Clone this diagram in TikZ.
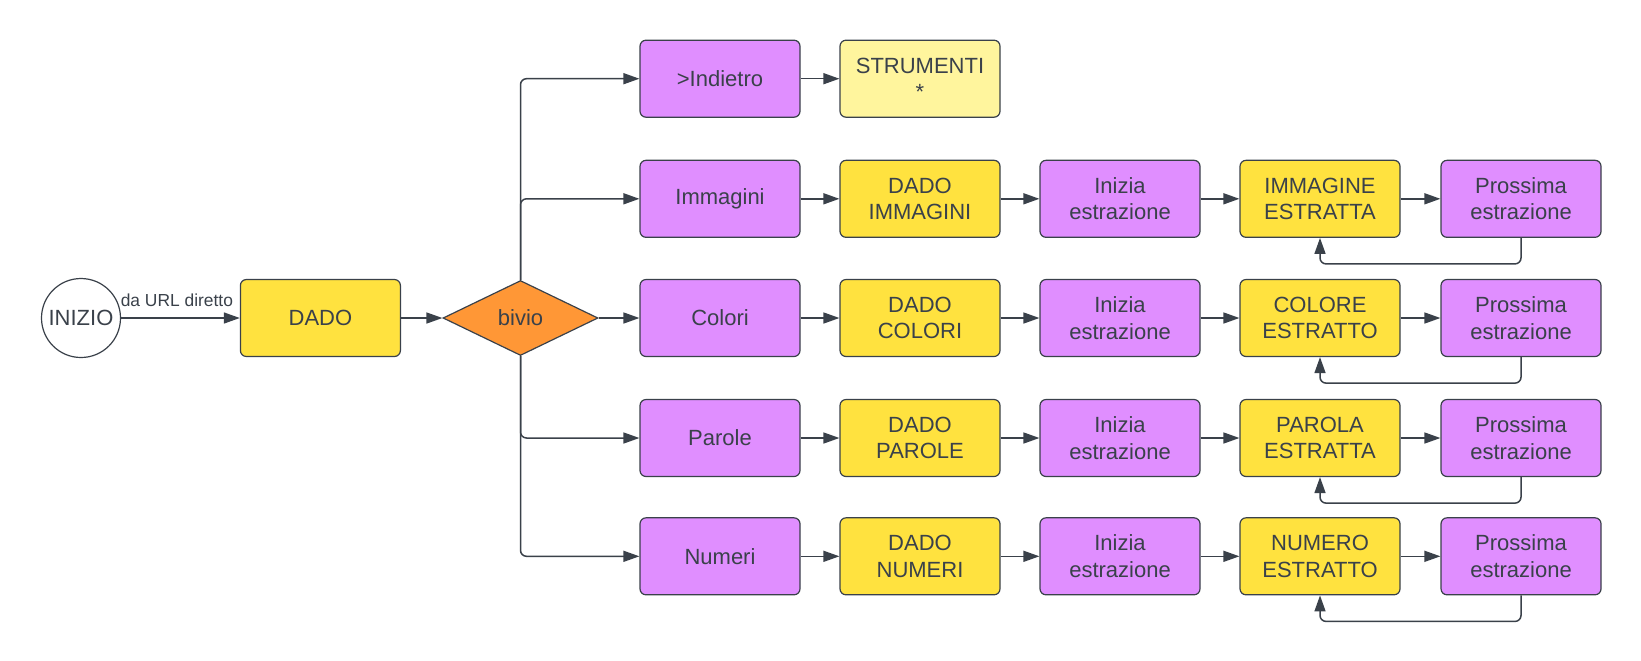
\documentclass[tikz,border=0pt]{standalone}
\usepackage{fontspec}
\setmainfont{Liberation Sans}
\usepackage{xcolor}
\usepackage{tikz}
\usetikzlibrary{arrows.meta,positioning,shapes.geometric}

\definecolor{lilla}{HTML}{E08EFF}
\definecolor{giallo}{HTML}{FFE23F}
\definecolor{giallochiaro}{HTML}{FFF59D}
\definecolor{arancio}{HTML}{FF9736}
\definecolor{inchiostro}{HTML}{3A414A}

\begin{document}
\begin{tikzpicture}[
    x=0.5pt, y=-0.5pt,
    box/.style={rectangle,rounded corners=3pt,draw=inchiostro,line width=0.6pt,
      minimum width=80pt,minimum height=38.5pt,inner sep=0pt,align=center,
      text=inchiostro,font=\fontsize{11}{13.3}\selectfont},
    viola/.style={box,fill=lilla},
    oro/.style={box,fill=giallo},
    pallido/.style={box,fill=giallochiaro},
    conn/.style={-{Triangle[length=8pt,width=5.5pt]},inchiostro,line width=0.75pt,rounded corners=3pt},
    lbl/.style={font=\fontsize{8.7}{10}\selectfont,text=inchiostro,inner sep=1pt},
  ]
  \useasboundingbox (0,0) rectangle (1641,660);

  % start, first die, fork
  \node[circle,draw=inchiostro,line width=0.6pt,minimum size=39.5pt,inner sep=0pt,
        text=inchiostro,font=\fontsize{11}{13.3}\selectfont] (inizio) at (81,318) {INIZIO};
  \node[oro] (dado) at (320.4,318) {DADO};
  \node[diamond,draw=inchiostro,line width=0.6pt,fill=arancio,aspect=2,inner sep=0pt,
        minimum width=77.5pt,minimum height=37.5pt,text=inchiostro,
        font=\fontsize{11}{13.3}\selectfont] (bivio) at (520.5,318) {bivio};

  \draw[conn] (inizio) -- node[lbl,pos=0.47,above=4.5pt] {da URL diretto} (dado);
  \draw[conn] (dado) -- (bivio);

  % back to tools
  \node[viola] (indietro) at (720,78.7) {>Indietro};
  \node[pallido] (strumenti) at (920,78.7) {STRUMENTI\\*};
  \draw[conn] (indietro) -- (strumenti);

  % one row per category
  \foreach \r/\riga/\nome/\dadotxt/\estratto in {
      1/198.8/Immagini/{DADO\\IMMAGINI}/{IMMAGINE\\ESTRATTA},
      2/318/Colori/{DADO\\COLORI}/{COLORE\\ESTRATTO},
      3/438/Parole/{DADO\\PAROLE}/{PAROLA\\ESTRATTA},
      4/556.3/Numeri/{DADO\\NUMERI}/{NUMERO\\ESTRATTO}}
  {
    \node[viola] (c\r) at (720,\riga) {\nome};
    \node[oro]   (d\r) at (920,\riga) {\dadotxt};
    \node[viola] (s\r) at (1120,\riga) {Inizia\\estrazione};
    \node[oro]   (e\r) at (1320,\riga) {\estratto};
    \node[viola] (p\r) at (1521,\riga) {Prossima\\estrazione};
    \draw[conn] (c\r) -- (d\r);
    \draw[conn] (d\r) -- (s\r);
    \draw[conn] (s\r) -- (e\r);
    \draw[conn] (e\r) -- (p\r);
    % loop back to the drawn item
    \draw[conn] (p\r.south) -- ++(0,26) -| (e\r.south);
  }

  % branches out of the fork
  \draw[conn] (bivio.north) |- (indietro.west);
  \draw[conn] (bivio.north) |- (c1.west);
  \draw[conn] (bivio.east) -- (c2.west);
  \draw[conn] (bivio.south) |- (c3.west);
  \draw[conn] (bivio.south) |- (c4.west);

\end{tikzpicture}
\end{document}
